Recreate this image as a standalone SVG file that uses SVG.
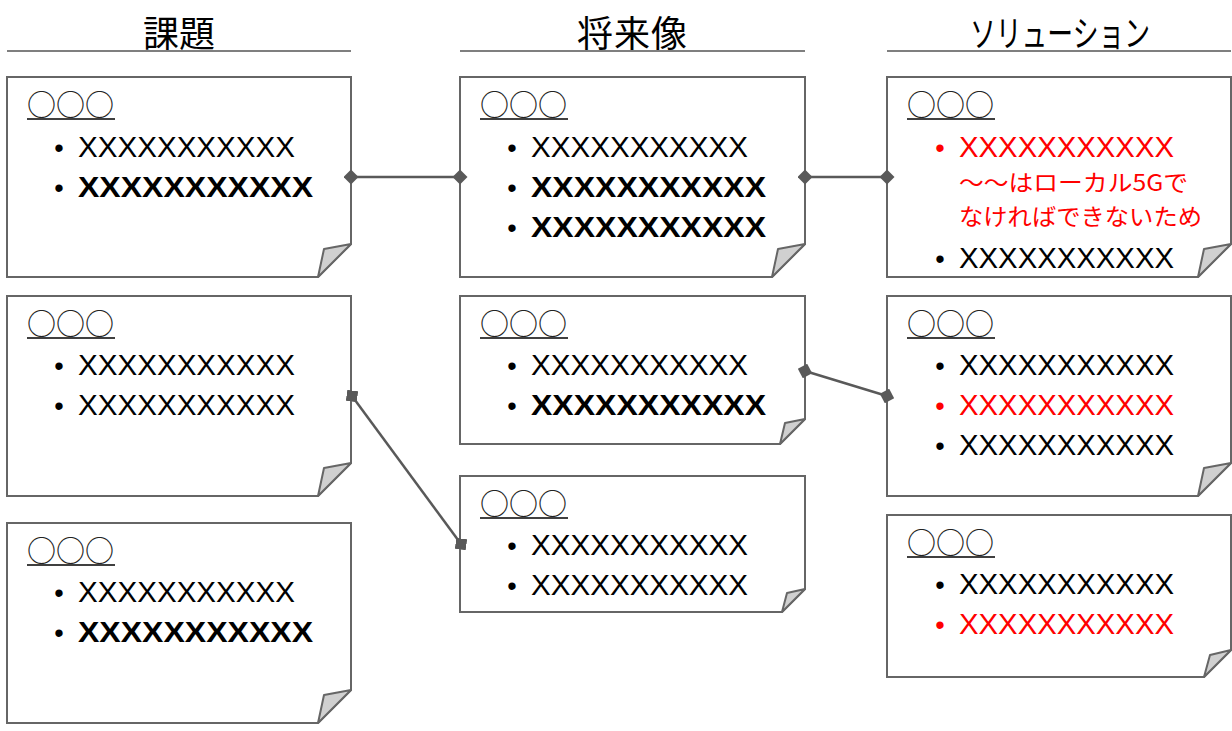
<svg xmlns="http://www.w3.org/2000/svg" width="1232" height="731" viewBox="0 0 1232 731">
<style>
.box{fill:#fff;stroke:#666;stroke-width:2}
.fold{fill:#d0d0d0;stroke:#666;stroke-width:2;stroke-linejoin:round}
.hdr{font-family:"Noto Sans CJK JP",sans-serif;font-size:36px;fill:#000;text-anchor:middle}
.hline{stroke:#7f7f7f;stroke-width:2}
.ttl{font-family:"Noto Sans CJK JP",sans-serif;font-size:29px;fill:#222}
.ul{stroke:#404040;stroke-width:2}
.x{font-family:"Liberation Sans",Arial,sans-serif;font-size:29px;fill:#000}
.b{font-weight:bold}
.red{fill:#ff0000}
.jp{font-family:"Noto Sans CJK JP",sans-serif;font-size:23px;fill:#ff0000}
.bul{font-family:"Liberation Sans",Arial,sans-serif;font-size:27px;text-anchor:middle}
.conn{stroke:#595959;stroke-width:2.5;fill:none}
</style>
<defs>
<marker id="dia" viewBox="0 0 10 10" refX="5" refY="5" markerWidth="15" markerHeight="15" markerUnits="userSpaceOnUse" orient="auto">
<path d="M0,5 L5,0 L10,5 L5,10 Z" fill="#595959"/>
</marker>
<marker id="sq" viewBox="0 0 10 10" refX="5" refY="5" markerWidth="11" markerHeight="11" markerUnits="userSpaceOnUse" orient="8">
<rect x="0" y="0" width="10" height="10" fill="#595959"/>
</marker>
</defs>
<rect width="1232" height="731" fill="#fff"/>

<g id="headers">
<text class="hdr" x="179" y="47">課題</text>
<line class="hline" x1="7" y1="51" x2="351" y2="51"/>
<text class="hdr" x="632" y="47" textLength="110">将来像</text>
<line class="hline" x1="460" y1="51" x2="805" y2="51"/>
<text class="hdr" x="1060" y="47" textLength="180" lengthAdjust="spacingAndGlyphs">ソリューション</text>
<line class="hline" x1="887" y1="51" x2="1231" y2="51"/>
</g>

<!-- Column 1 -->
<g id="c1b1">
<path class="box" d="M7,77 H351 V244 L318,277 H7 Z"/>
<polygon class="fold" points="318,277 324,249 351,244"/>
<text class="ttl" x="27" y="116" textLength="87" lengthAdjust="spacingAndGlyphs">○○○</text>
<line class="ul" x1="27" y1="119" x2="115" y2="119"/>
<text class="bul" x="59" y="157">•</text>
<text class="x" x="78" y="157" textLength="217" lengthAdjust="spacingAndGlyphs">XXXXXXXXXXX</text>
<text class="bul" x="59" y="197">•</text>
<text class="x b" x="78" y="197" textLength="235" lengthAdjust="spacingAndGlyphs">XXXXXXXXXXX</text>
</g>
<g id="c1b2">
<path class="box" d="M7,296 H351 V463 L318,496 H7 Z"/>
<polygon class="fold" points="318,496 324,468 351,463"/>
<text class="ttl" x="27" y="335" textLength="87" lengthAdjust="spacingAndGlyphs">○○○</text>
<line class="ul" x1="27" y1="338" x2="115" y2="338"/>
<text class="bul" x="59" y="375">•</text>
<text class="x" x="78" y="375" textLength="217" lengthAdjust="spacingAndGlyphs">XXXXXXXXXXX</text>
<text class="bul" x="59" y="415">•</text>
<text class="x" x="78" y="415" textLength="217" lengthAdjust="spacingAndGlyphs">XXXXXXXXXXX</text>
</g>
<g id="c1b3">
<path class="box" d="M7,523 H351 V690 L318,723 H7 Z"/>
<polygon class="fold" points="318,723 324,695 351,690"/>
<text class="ttl" x="27" y="562" textLength="87" lengthAdjust="spacingAndGlyphs">○○○</text>
<line class="ul" x1="27" y1="565" x2="115" y2="565"/>
<text class="bul" x="59" y="602">•</text>
<text class="x" x="78" y="602" textLength="217" lengthAdjust="spacingAndGlyphs">XXXXXXXXXXX</text>
<text class="bul" x="59" y="642">•</text>
<text class="x b" x="78" y="642" textLength="235" lengthAdjust="spacingAndGlyphs">XXXXXXXXXXX</text>
</g>

<!-- Column 2 -->
<g id="c2b1">
<path class="box" d="M460,77 H805 V244 L772,277 H460 Z"/>
<polygon class="fold" points="772,277 778,249 805,244"/>
<text class="ttl" x="480" y="116" textLength="87" lengthAdjust="spacingAndGlyphs">○○○</text>
<line class="ul" x1="480" y1="119" x2="568" y2="119"/>
<text class="bul" x="512" y="157">•</text>
<text class="x" x="531" y="157" textLength="217" lengthAdjust="spacingAndGlyphs">XXXXXXXXXXX</text>
<text class="bul" x="512" y="197">•</text>
<text class="x b" x="531" y="197" textLength="235" lengthAdjust="spacingAndGlyphs">XXXXXXXXXXX</text>
<text class="bul" x="512" y="237">•</text>
<text class="x b" x="531" y="237" textLength="235" lengthAdjust="spacingAndGlyphs">XXXXXXXXXXX</text>
</g>
<g id="c2b2">
<path class="box" d="M460,296 H805 V419 L780,444 H460 Z"/>
<polygon class="fold" points="780,444 785,423 805,419"/>
<text class="ttl" x="480" y="335" textLength="87" lengthAdjust="spacingAndGlyphs">○○○</text>
<line class="ul" x1="480" y1="338" x2="568" y2="338"/>
<text class="bul" x="512" y="375">•</text>
<text class="x" x="531" y="375" textLength="217" lengthAdjust="spacingAndGlyphs">XXXXXXXXXXX</text>
<text class="bul" x="512" y="415">•</text>
<text class="x b" x="531" y="415" textLength="235" lengthAdjust="spacingAndGlyphs">XXXXXXXXXXX</text>
</g>
<g id="c2b3">
<path class="box" d="M460,476 H805 V589 L782,612 H460 Z"/>
<polygon class="fold" points="782,612 787,593 805,589"/>
<text class="ttl" x="480" y="515" textLength="87" lengthAdjust="spacingAndGlyphs">○○○</text>
<line class="ul" x1="480" y1="518" x2="568" y2="518"/>
<text class="bul" x="512" y="555">•</text>
<text class="x" x="531" y="555" textLength="217" lengthAdjust="spacingAndGlyphs">XXXXXXXXXXX</text>
<text class="bul" x="512" y="595">•</text>
<text class="x" x="531" y="595" textLength="217" lengthAdjust="spacingAndGlyphs">XXXXXXXXXXX</text>
</g>

<!-- Column 3 -->
<g id="c3b1">
<path class="box" d="M887,77 H1231 V244 L1198,277 H887 Z"/>
<polygon class="fold" points="1198,277 1204,249 1231,244"/>
<text class="ttl" x="907" y="116" textLength="87" lengthAdjust="spacingAndGlyphs">○○○</text>
<line class="ul" x1="907" y1="119" x2="995" y2="119"/>
<text class="bul red" x="940" y="157">•</text>
<text class="x red" x="959" y="157" textLength="215" lengthAdjust="spacingAndGlyphs">XXXXXXXXXXX</text>
<text class="jp" x="959" y="191" textLength="229" lengthAdjust="spacingAndGlyphs">～～はローカル5Gで</text>
<text class="jp" x="959" y="225" textLength="243" lengthAdjust="spacingAndGlyphs">なければできないため</text>
<text class="bul" x="940" y="268">•</text>
<text class="x" x="959" y="268" textLength="215" lengthAdjust="spacingAndGlyphs">XXXXXXXXXXX</text>
</g>
<g id="c3b2">
<path class="box" d="M887,296 H1231 V463 L1198,496 H887 Z"/>
<polygon class="fold" points="1198,496 1204,468 1231,463"/>
<text class="ttl" x="907" y="335" textLength="87" lengthAdjust="spacingAndGlyphs">○○○</text>
<line class="ul" x1="907" y1="338" x2="995" y2="338"/>
<text class="bul" x="940" y="375">•</text>
<text class="x" x="959" y="375" textLength="215" lengthAdjust="spacingAndGlyphs">XXXXXXXXXXX</text>
<text class="bul red" x="940" y="415">•</text>
<text class="x red" x="959" y="415" textLength="215" lengthAdjust="spacingAndGlyphs">XXXXXXXXXXX</text>
<text class="bul" x="940" y="455">•</text>
<text class="x" x="959" y="455" textLength="215" lengthAdjust="spacingAndGlyphs">XXXXXXXXXXX</text>
</g>
<g id="c3b3">
<path class="box" d="M887,515 H1231 V650 L1204,677 H887 Z"/>
<polygon class="fold" points="1204,677 1210,655 1231,650"/>
<text class="ttl" x="907" y="554" textLength="87" lengthAdjust="spacingAndGlyphs">○○○</text>
<line class="ul" x1="907" y1="557" x2="995" y2="557"/>
<text class="bul" x="940" y="594">•</text>
<text class="x" x="959" y="594" textLength="215" lengthAdjust="spacingAndGlyphs">XXXXXXXXXXX</text>
<text class="bul red" x="940" y="634">•</text>
<text class="x red" x="959" y="634" textLength="215" lengthAdjust="spacingAndGlyphs">XXXXXXXXXXX</text>
</g>

<g id="connectors">
<line class="conn" x1="351" y1="177" x2="460" y2="177" marker-start="url(#dia)" marker-end="url(#dia)"/>
<line class="conn" x1="805" y1="177" x2="887" y2="177" marker-start="url(#dia)" marker-end="url(#dia)"/>
<line class="conn" x1="352" y1="396" x2="461" y2="544" marker-start="url(#sq)" marker-end="url(#sq)"/>
<line class="conn" x1="805" y1="371" x2="887" y2="396" marker-start="url(#dia)" marker-end="url(#dia)"/>
</g>
</svg>
